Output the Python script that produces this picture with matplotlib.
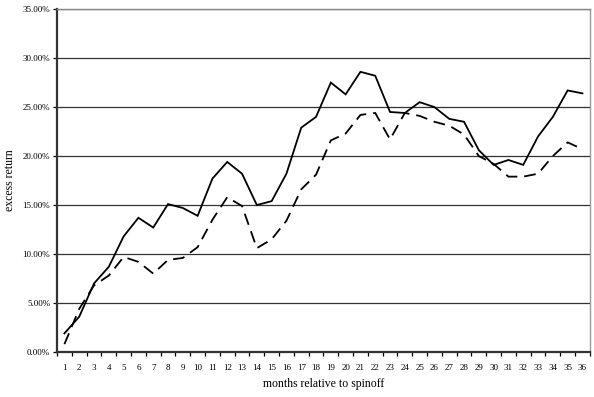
import matplotlib.pyplot as plt
import numpy as np
from matplotlib.ticker import FixedLocator, FuncFormatter

plt.rcParams['font.family'] = ['Liberation Serif', 'DejaVu Serif']

# months relative to spinoff
months = list(range(1, 37))

# cumulative excess return (%), solid line
solid = [1.9, 3.6, 7.0, 8.7, 11.8, 13.7, 12.7, 15.1, 14.7, 13.9,
         17.7, 19.4, 18.2, 15.0, 15.4, 18.2, 22.9, 24.0, 27.5, 26.3,
         28.6, 28.2, 24.5, 24.4, 25.5, 25.0, 23.8, 23.5, 20.6, 19.1,
         19.6, 19.1, 22.0, 24.0, 26.7, 26.4]

# cumulative excess return (%), dashed line
dashed = [0.8, 4.4, 6.8, 7.8, 9.7, 9.2, 8.0, 9.4, 9.6, 10.7,
          13.5, 15.8, 14.9, 10.6, 11.5, 13.4, 16.6, 18.1, 21.6, 22.3,
          24.2, 24.4, 21.7, 24.4, 24.1, 23.5, 23.1, 22.2, 20.0, 19.2,
          17.9, 17.9, 18.2, 20.0, 21.4, 20.7]

yticks = [0, 5, 10, 15, 20, 25, 30, 35]


def plot_spinoff():
    fig = plt.figure(figsize=(5.94, 3.97), dpi=100)
    ax = fig.add_axes([0.096, 0.1134, 0.897, 0.8636])

    ax.plot(months, solid, color='black', lw=1.3, solid_joinstyle='miter')
    ax.plot(months, dashed, color='black', lw=1.3, dashes=(6.5, 3.8))

    ax.set_xlim(0.5, 36.5)
    ax.set_ylim(0, 35)

    # gridlines
    ax.set_yticks(yticks)
    ax.yaxis.set_major_formatter(FuncFormatter(lambda v, p: f"{v:.2f}%"))
    ax.grid(axis='y', color='#333333', lw=0.9)
    ax.set_axisbelow(True)

    # category labels at months, tick marks between categories
    ax.set_xticks(months)
    ax.set_xticklabels([str(m) for m in months])
    ax.xaxis.set_minor_locator(FixedLocator(np.arange(0.5, 37, 1)))
    ax.tick_params(axis='x', which='major', length=0, pad=9, labelsize=6.5)
    ax.tick_params(axis='x', which='minor', length=3, width=0.9, direction='out')
    ax.tick_params(axis='y', which='major', length=3, width=0.9, labelsize=6.5, pad=2)

    for side in ['left', 'bottom']:
        ax.spines[side].set_color('#333333')
        ax.spines[side].set_linewidth(1.6)
    ax.spines['right'].set_color('#999999')
    ax.spines['right'].set_linewidth(1.0)
    ax.spines['top'].set_color('#888888')
    ax.spines['top'].set_linewidth(1.0)

    ax.set_xlabel("months relative to spinoff", fontsize=8.5, labelpad=4)
    ax.set_ylabel("excess return", fontsize=8.5, labelpad=5)

    fig.savefig("out.png", dpi=100)


if __name__ == "__main__":
    plot_spinoff()
